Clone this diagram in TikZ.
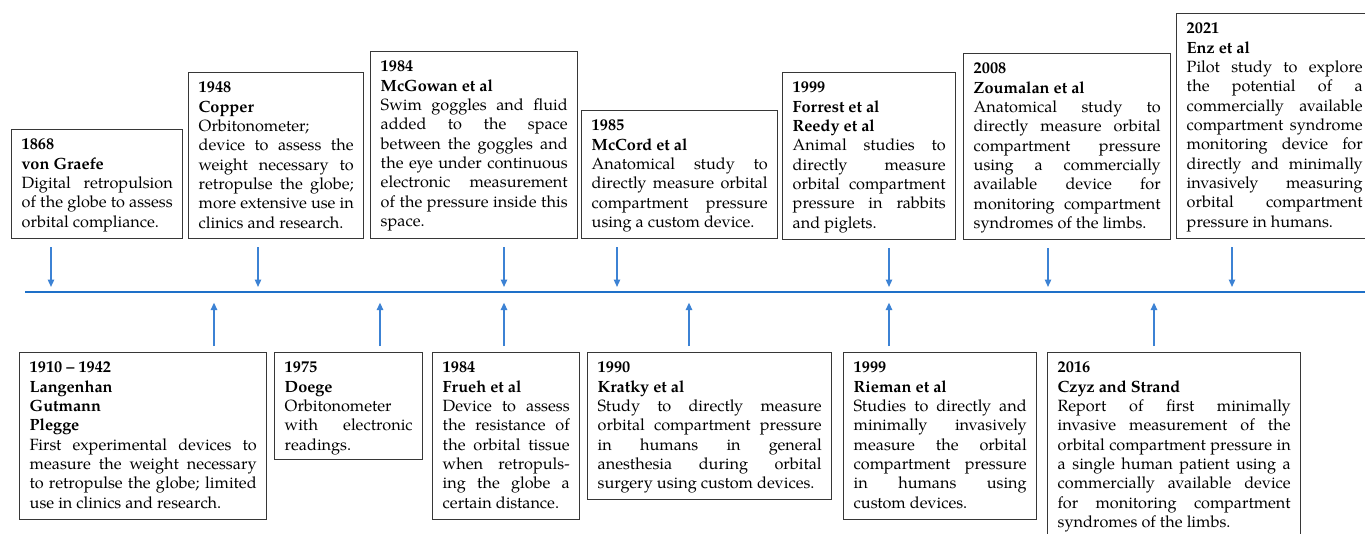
\documentclass[tikz,border=0pt]{standalone}
\usepackage{fontspec}
\setmainfont{texgyrepagella}[Extension=.otf,UprightFont=*-regular,BoldFont=*-bold,ItalicFont=*-italic,BoldItalicFont=*-bolditalic]
\usetikzlibrary{arrows.meta,calc}
\newlength\pxu \setlength\pxu{0.75pt}
\definecolor{tlblue}{RGB}{30,112,200}
\definecolor{arblue}{RGB}{60,130,212}
\definecolor{boxgray}{RGB}{55,55,55}
\newcommand\J[1]{\makebox[\linewidth][s]{#1}\par}
\newcommand\tlb[3]{\parbox[t][#2\pxu][t]{\dimexpr#1\pxu-20\pxu\relax}{\fontsize{12.2}{14.5}\selectfont\rule{0pt}{15pt}#3}}
\tikzset{
  evbox/.style={draw=boxgray, line width=1.1pt, inner xsep=7.5pt, inner ysep=0pt, anchor=north west, fill=white},
  downarr/.style={draw=arblue, line width=0.95pt, -{Triangle[width=4.8pt,length=5.5pt]}, shorten <=6pt, shorten >=3.8pt},
  uparr/.style={draw=arblue, line width=0.95pt, -{Triangle[width=4.8pt,length=5.5pt]}, shorten <=4.5pt, shorten >=8pt},
  tline/.style={draw=tlblue, line width=2.2pt}
}
\begin{document}
\begin{tikzpicture}[x=0.75pt,y=-0.75pt]
\useasboundingbox (0,0) rectangle (1365,533);
\clip (0,0) rectangle (1365,533);
\fill[white] (0,0) rectangle (1365,533);

% timeline
\coordinate (tl0) at (25,292);
\coordinate (tl1) at (1370,292);
\draw[tline] (tl0) -- (tl1);

% top events
\node[evbox] (n1) at (11,129) {\tlb{171}{109}{\textbf{1868}\par\textbf{von Graefe}\par
  \J{Digital retropulsion}\J{of the globe to assess}orbital compliance.}};
\node[evbox] (n2) at (188,72) {\tlb{175}{166}{\textbf{1948}\par\textbf{Copper}\par
  Orbitonometer;\par\J{device to assess the}\J{weight necessary to}\J{retropulse the globe;}\J{more extensive use in}clinics and research.}};
\node[evbox] (n3) at (370,51) {\tlb{207}{187}{\textbf{1984}\par\textbf{McGowan et al}\par
  \J{Swim goggles and fluid}\J{added to the space}\J{between the goggles and}\J{the eye under continuous}\J{electronic measurement}\J{of the pressure inside this}space.}};
\node[evbox] (n4) at (581,110) {\tlb{196}{128}{\textbf{1985}\par\textbf{McCord et al}\par
  \J{Anatomical study to}\J{directly measure orbital}\J{compartment pressure}using a custom device.}};
\node[evbox] (n5) at (782,72) {\tlb{173}{167}{\textbf{1999}\par\textbf{Forrest et al}\par\textbf{Reedy et al}\par
  \J{Animal studies to}\J{directly measure}\J{orbital compartment}\J{pressure in rabbits}and piglets.}};
\node[evbox] (n6) at (963,53) {\tlb{207}{186}{\textbf{2008}\par\textbf{Zoumalan et al}\par
  \J{Anatomical study to}\J{directly measure orbital}\J{compartment pressure}\J{using a commercially}\J{available device for}\J{monitoring compartment}syndromes of the limbs.}};
\node[evbox] (n7) at (1176,13) {\tlb{196}{225}{\textbf{2021}\par\textbf{Enz et al}\par
  \J{Pilot study to explore}\J{the potential of a}\J{commercially available}\J{compartment syndrome}\J{monitoring device for}\J{directly and minimally}\J{invasively measuring}\J{orbital compartment}pressure in humans.}};

% bottom events
\node[evbox] (m1) at (19,352) {\tlb{247}{167}{\textbf{1910 – 1942}\par\textbf{Langenhan}\par\textbf{Gutmann}\par\textbf{Plegge}\par
  \J{First experimental devices to}\J{measure the weight necessary}\J{to retropulse the globe; limited}use in clinics and research.}};
\node[evbox] (m2) at (274,352) {\tlb{148}{107}{\textbf{1975}\par\textbf{Doege}\par
  Orbitonometer\par\J{with electronic}readings.}};
\node[evbox] (m3) at (432,352) {\tlb{147}{167}{\textbf{1984}\par\textbf{Frueh et al}\par
  \J{Device to assess}\J{the resistance of}\J{the orbital tissue}\J{when retropuls-}\J{ing the globe a}certain distance.}};
\node[evbox] (m4) at (587,352) {\tlb{244}{147}{\textbf{1990}\par\textbf{Kratky et al}\par
  \J{Study to directly measure}\J{orbital compartment pressure}\J{in humans in general}\J{anesthesia during orbital}surgery using custom devices.}};
\node[evbox] (m5) at (843,352) {\tlb{193}{167}{\textbf{1999}\par\textbf{Rieman et al}\par
  \J{Studies to directly and}\J{minimally invasively}\J{measure the orbital}\J{compartment pressure}\J{in humans using}custom devices.}};
\node[evbox] (m6) at (1047,352) {\tlb{253}{200}{\textbf{2016}\par\textbf{Czyz and Strand}\par
  \J{Report of first minimally}\J{invasive measurement of the}\J{orbital compartment pressure in}\J{a single human patient using a}\J{commercially available device}\J{for monitoring compartment}syndromes of the limbs.}};

% arrow targets on the timeline
\coordinate (d1) at (51,292);
\coordinate (d2) at (258,292);
\coordinate (d3) at (504,292);
\coordinate (d4) at (617,292);
\coordinate (d5) at (889,292);
\coordinate (d6) at (1048,292);
\coordinate (d7) at (1232,292);
\coordinate (u1) at (214,292);
\coordinate (u2) at (380,292);
\coordinate (u3) at (504,292);
\coordinate (u4) at (689,292);
\coordinate (u5) at (889,292);
\coordinate (u6) at (1154,292);

\foreach \i in {1,...,7}{\draw[downarr] (n\i.south -| d\i) -- (d\i);}
\foreach \i in {1,...,6}{\draw[uparr] (m\i.north -| u\i) -- (u\i);}
\end{tikzpicture}
\end{document}
